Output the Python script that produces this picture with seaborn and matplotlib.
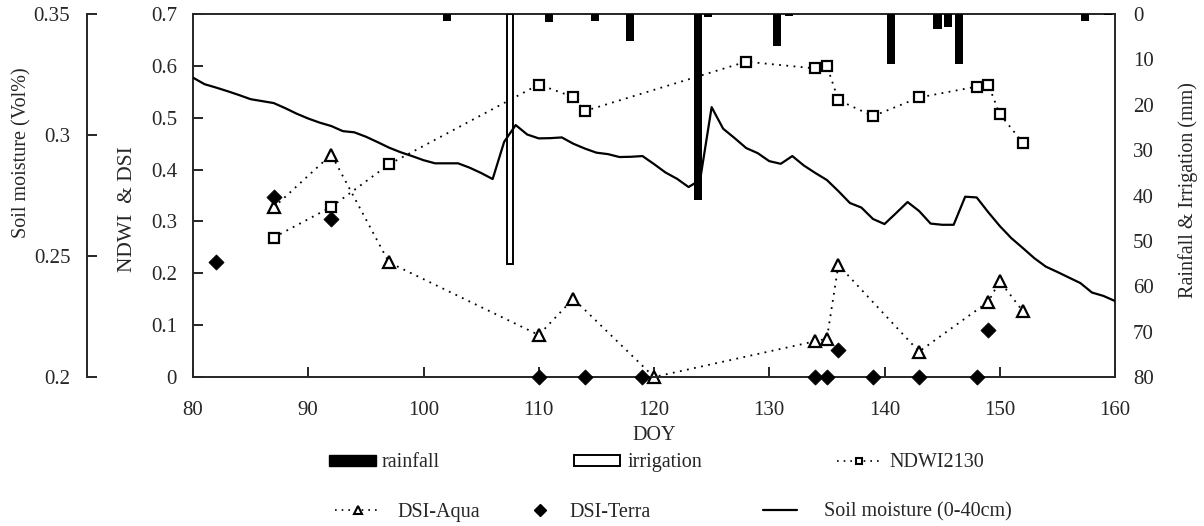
import numpy as np
import seaborn as sns
import matplotlib.pyplot as plt
from matplotlib.lines import Line2D
from matplotlib.patches import Patch

# %% Values.

# Daily soil moisture (0-40 cm), DOY 80..160, Vol%.
sm_doy = np.arange(80, 161)
soil_moisture = [
    0.3237, 0.3210, 0.3196, 0.3181, 0.3165, 0.3148, 0.3140, 0.3132, 0.3111, 0.3088,
    0.3068, 0.3051, 0.3037, 0.3016, 0.3011, 0.2993, 0.2971, 0.2948, 0.2929, 0.2913,
    0.2896, 0.2883, 0.2883, 0.2883, 0.2865, 0.2843, 0.2818, 0.2972, 0.3041, 0.3002,
    0.2986, 0.2987, 0.2990, 0.2964, 0.2944, 0.2927, 0.2921, 0.2909, 0.2910, 0.2913,
    0.2880, 0.2845, 0.2819, 0.2785, 0.2814, 0.3115, 0.3026, 0.2987, 0.2946, 0.2925,
    0.2892, 0.2881, 0.2913, 0.2874, 0.2843, 0.2814, 0.2768, 0.2719, 0.2700, 0.2653,
    0.2632, 0.2677, 0.2723, 0.2686, 0.2634, 0.2629, 0.2629, 0.2745, 0.2742, 0.2681,
    0.2624, 0.2574, 0.2533, 0.2491, 0.2456, 0.2434, 0.2411, 0.2388, 0.2349, 0.2335,
    0.2314,
]

ndwi_doy = [87, 92, 97, 110, 113, 114, 128, 134, 135, 136, 139, 143, 148, 149, 150, 152]
ndwi2130 = [0.269, 0.328, 0.410, 0.564, 0.540, 0.513, 0.608, 0.595, 0.600, 0.534,
            0.503, 0.539, 0.560, 0.564, 0.507, 0.452]

aqua_doy = [87, 92, 97, 110, 113, 120, 134, 135, 136, 143, 149, 150, 152]
dsi_aqua = [0.327, 0.429, 0.221, 0.081, 0.151, 0.0, 0.069, 0.074, 0.216, 0.049,
            0.145, 0.185, 0.127]

terra_doy = [82, 87, 92, 110, 114, 119, 134, 135, 136, 139, 143, 148, 149]
dsi_terra = [0.221, 0.347, 0.304, 0.0, 0.0, 0.0, 0.0, 0.0, 0.052, 0.0, 0.0, 0.0, 0.091]

rain_doy = [102.0, 110.9, 114.9, 117.9, 123.8, 124.7, 130.7, 131.7, 140.6, 144.6,
            145.5, 146.5, 157.4, 159.4]
rain_mm = [1.5, 1.7, 1.5, 6.0, 41.0, 0.6, 7.1, 0.4, 11.0, 3.3, 2.9, 11.0, 1.6, 0.3]

irrigation_doy = [107.5]
irrigation_mm = [55.0]

doy_ticks = [80, 90, 100, 110, 120, 130, 140, 150, 160]
ndwi_ticks = [0, 0.1, 0.2, 0.3, 0.4, 0.5, 0.6, 0.7]
ndwi_tick_labels = ['0', '0.1', '0.2', '0.3', '0.4', '0.5', '0.6', '0.7']
sm_ticks = [0.2, 0.25, 0.3, 0.35]
sm_tick_labels = ['0.2', '0.25', '0.3', '0.35']
rain_ticks = [0, 10, 20, 30, 40, 50, 60, 70, 80]

# %% Figure.

sns.set_style('ticks')
plt.rcParams['font.family'] = ['Liberation Serif', 'DejaVu Serif']
plt.rcParams['axes.linewidth'] = 1.4

fig = plt.figure(figsize=(12.04, 5.26), dpi=100)
ax = fig.add_axes([193 / 1204, 149 / 526, 922 / 1204, 363 / 526])
ax_rain = ax.twinx()
ax_sm = ax.twinx()

# Rainfall and irrigation hang from the top (reversed right axis).
ax_rain.bar(rain_doy, rain_mm, width=0.7, color='black', linewidth=0)
ax_rain.bar(irrigation_doy, irrigation_mm, width=0.5, facecolor='white',
            edgecolor='black', linewidth=1.4)
ax_rain.set_ylim(80, 0)
ax_rain.set_yticks(rain_ticks)
ax_rain.tick_params(axis='y', length=0, pad=13, labelsize=15)
for side in ['left', 'right', 'top', 'bottom']:
    ax_rain.spines[side].set_visible(False)
ax_rain.set_ylabel('Rainfall & Irrigation (mm)', fontsize=14.5, va='center')
ax_rain.yaxis.set_label_coords(1.079, 0.515)

# NDWI and DSI on the main axis.
dotted = (0, (1, 3))
sns.lineplot(x=ndwi_doy, y=ndwi2130, ax=ax, color='black', linestyle=dotted, linewidth=1.3,
             marker='s', markersize=6.5, markerfacecolor='white', markeredgecolor='black',
             markeredgewidth=1.6, clip_on=False)
sns.lineplot(x=aqua_doy, y=dsi_aqua, ax=ax, color='black', linestyle=dotted, linewidth=1.3,
             marker='^', markersize=8, markerfacecolor='white', markeredgecolor='black',
             markeredgewidth=1.6, clip_on=False)
sns.scatterplot(x=terra_doy, y=dsi_terra, ax=ax, marker='D', s=60, color='black',
                edgecolor='black', linewidth=0.5, clip_on=False, zorder=5, legend=False)

ax.set_xlim(80, 160)
ax.set_ylim(0, 0.7)
ax.set_xticks(doy_ticks)
ax.set_yticks(ndwi_ticks)
ax.set_yticklabels(ndwi_tick_labels)
ax.tick_params(axis='both', direction='in', length=7, width=1.4, labelsize=15)
ax.tick_params(axis='x', pad=17)
ax.tick_params(axis='y', pad=11.5)
ax.set_xlabel('DOY', fontsize=14.5)
ax.xaxis.set_label_coords(0.5, -0.135)
ax.set_ylabel('NDWI  & DSI', fontsize=15.5, va='center')
ax.yaxis.set_label_coords(-0.0705, 0.463)

# Soil moisture on the outer left axis.
sns.lineplot(x=sm_doy, y=soil_moisture, ax=ax_sm, color='black', linewidth=1.6)
ax_sm.set_ylim(0.2, 0.35)
ax_sm.spines['left'].set_position(('axes', -0.115))
ax_sm.spines['left'].set_visible(True)
for side in ['right', 'top', 'bottom']:
    ax_sm.spines[side].set_visible(False)
ax_sm.yaxis.set_ticks_position('left')
ax_sm.yaxis.set_label_position('left')
ax_sm.set_yticks(sm_ticks)
ax_sm.set_yticklabels(sm_tick_labels)
ax_sm.tick_params(axis='y', direction='in', length=7, width=1.4, pad=12, labelsize=15)
ax_sm.set_ylabel('Soil moisture (Vol%)', fontsize=14.5, va='center')
ax_sm.yaxis.set_label_coords(-0.1855, 0.617)

# %% Legend, one entry at a time to keep the original spacing.

legend_entries = [
    (Patch(facecolor='black', edgecolor='black'), 'rainfall', 0.2733, 0.1198, 2.33, 0.3),
    (Patch(facecolor='white', edgecolor='black', linewidth=1.4), 'irrigation', 0.4767, 0.1198, 2.3, 0.35),
    (Line2D([], [], color='black', linestyle=dotted, linewidth=1.2, marker='s', markersize=5,
            markerfacecolor='white', markeredgewidth=1.5), 'NDWI2130', 0.6952, 0.1198, 2.15, 0.45),
    (Line2D([], [], color='black', linestyle=dotted, linewidth=1.2, marker='^', markersize=6,
            markerfacecolor='white', markeredgewidth=1.5), 'DSI-Aqua', 0.2782, 0.0266, 2.25, 0.85),
    (Line2D([], [], color='black', linestyle='none', marker='D', markersize=6.5),
     'DSI-Terra', 0.4402, 0.0266, 1.0, 0.95),
    (Line2D([], [], color='black', linewidth=1.6), 'Soil moisture (0-40cm)', 0.6337, 0.0266, 1.7, 1.35),
]
for handle, label, x, y, length, textpad in legend_entries:
    fig.legend(handles=[handle], labels=[label], loc='center left', bbox_to_anchor=(x, y),
               frameon=False, fontsize=14.5, borderpad=0, borderaxespad=0,
               handlelength=length, handleheight=0.45, handletextpad=textpad)

fig.savefig('out.png', dpi=100)
